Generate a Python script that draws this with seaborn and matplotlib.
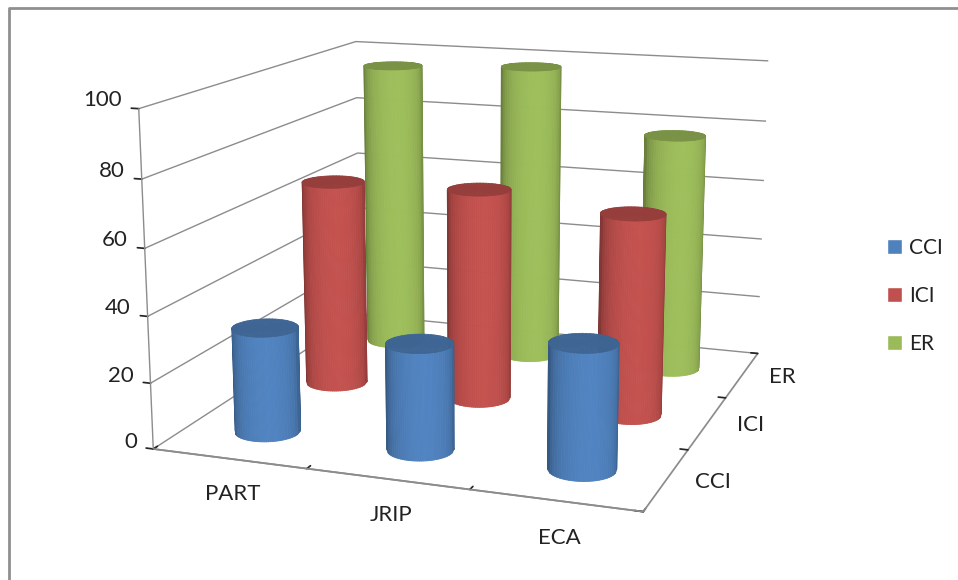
import numpy as np
import seaborn as sns
import matplotlib.pyplot as plt
from matplotlib.lines import Line2D
from matplotlib.patches import Patch

methods = ["PART", "JRIP", "ECA"]
series = ["CCI", "ICI", "ER"]
cci = [32, 32, 37]
ici = [66, 67, 63]
er = [96, 98, 78]
z_ticks = [0, 20, 40, 60, 80, 100]
colors = ["#4F81BD", "#C0504D", "#9BBB59"]

sns.set_theme(style="white")
plt.rcParams['font.family'] = ['Lato', 'DejaVu Sans']
palette = sns.color_palette(colors)

W, H = 958, 580
fig = plt.figure(figsize=(W/100, H/100), dpi=100)
ax = fig.add_axes([-0.008, 0.067, 1, 1], projection='3d', computed_zorder=False)

box = (2.2, 2.3, 1.5)
azim = -70.5
ax.set_box_aspect(box, zoom=1.27)
ax.set_proj_type('persp', focal_length=0.6)
ax.view_init(elev=13.5, azim=azim)
ax.set_xlim(0, 3)
ax.set_ylim(0, 3)
ax.set_zlim(0, 100)
ax.patch.set_alpha(0)

# walls: only horizontal grid lines, no fill
for axis in [ax.xaxis, ax.yaxis, ax.zaxis]:
    axis.set_pane_color((1, 1, 1, 0))
    axis.pane.set_edgecolor("#8c8c8c")
    axis.line.set_color("#8c8c8c")
    axis._axinfo['tick']['color'] = "#8c8c8c"
    axis._axinfo['tick']['inward_factor'] = 0
    axis._axinfo['tick']['outward_factor'] = 0.2
    axis._axinfo['grid']['color'] = (1, 1, 1, 0)
ax.zaxis._axinfo['grid'].update(color="#8c8c8c", linewidth=1)
ax.zaxis._axinfo['juggled'] = (1, 0, 2)

ax.set_xticks(range(4))
ax.set_yticks(range(4))
ax.set_xticklabels([])
ax.set_yticklabels([])
ax.set_zticks(z_ticks)
ax.set_zticklabels([str(v) for v in z_ticks], fontsize=16, color="#222222", ha='right', va='bottom')
ax.tick_params(axis='z', pad=-3)

# value axis line on the front left corner, it lies outside the square axes box
ax.plot([0, 0], [0, 0], [z_ticks[0], z_ticks[-1]], color="#8c8c8c", lw=1, zorder=5, clip_on=False)


def cylinder(cx, cy, h, col, order):
    rx = 0.2
    ry = 0.2 * (box[0] / box[1])
    # facets of about equal width on screen, thin slivers stack up badly at the edge
    u = np.linspace(-1, 1, 33)
    side = np.rad2deg(np.arcsin(u))
    ang = np.concatenate([[-115, -103], side, [103, 115]]) + azim
    th = np.deg2rad(ang)
    X = np.outer(np.ones(2), cx + rx*np.cos(th))
    Y = np.outer(np.ones(2), cy + ry*np.sin(th))
    Z = np.outer([0, h], np.ones(th.size))
    # lighter towards the camera, dark at the silhouette
    light = np.cos(th - np.deg2rad(azim + 8))
    shade = 0.62 + 0.40*np.clip(light, 0, 1)**0.7
    fc = np.ones((1, th.size - 1, 4))
    fc[..., :3] = np.clip(np.array(col)[None, :] * ((shade[:-1] + shade[1:])/2)[:, None], 0, 1)
    surf = ax.plot_surface(X, Y, Z, facecolors=fc, shade=False, rstride=1, cstride=1,
                           linewidth=0.6, antialiased=True, zorder=order)
    surf.set_edgecolor(fc.reshape(-1, 4))
    t2 = np.linspace(0, 2*np.pi, 61)
    r = np.array([0, 1.0])
    Xc = cx + rx*np.outer(r, np.cos(t2))
    Yc = cy + ry*np.outer(r, np.sin(t2))
    Zc = np.full(Xc.shape, float(h))
    cap = tuple(np.array(col)*0.78)
    ax.plot_surface(Xc, Yc, Zc, color=cap, shade=False, rstride=1, cstride=1,
                    linewidth=0.5, edgecolor=cap, antialiased=True, zorder=order+0.5)


# back row first so the front cylinders overlap it
rows = [cci, ici, er]
for j in [2, 1, 0]:
    for i in range(3):
        cylinder(i + 0.5, j + 0.5, rows[j][i], palette[j], 10 + (2-j)*10 + i)

for i, name in enumerate(methods):
    ax.text(0.78 + i*0.95, -0.48, 0, name, fontsize=16, color="#222222", ha='center', va='center')
for j, name in enumerate(series):
    ax.text(3.26, j + 0.54, 0, name, fontsize=16, color="#222222", ha='center', va='center')

handles = [Patch(facecolor=palette[k], label=series[k]) for k in range(3)]
fig.legend(handles=handles, loc='center left', bbox_to_anchor=(887/W, 1 - 296/H), frameon=False,
           fontsize=15, labelcolor="#222222", handlelength=0.72, handleheight=0.72,
           handletextpad=0.35, labelspacing=1.35, borderpad=0, borderaxespad=0)

# chart frame, bottom edge is cut off in the source
fig.add_artist(Line2D([9/W, 9/W, 1], [0, 1 - 8/H, 1 - 8/H], color="#8f8f8f", lw=2))

fig.savefig("out.png", dpi=100)
